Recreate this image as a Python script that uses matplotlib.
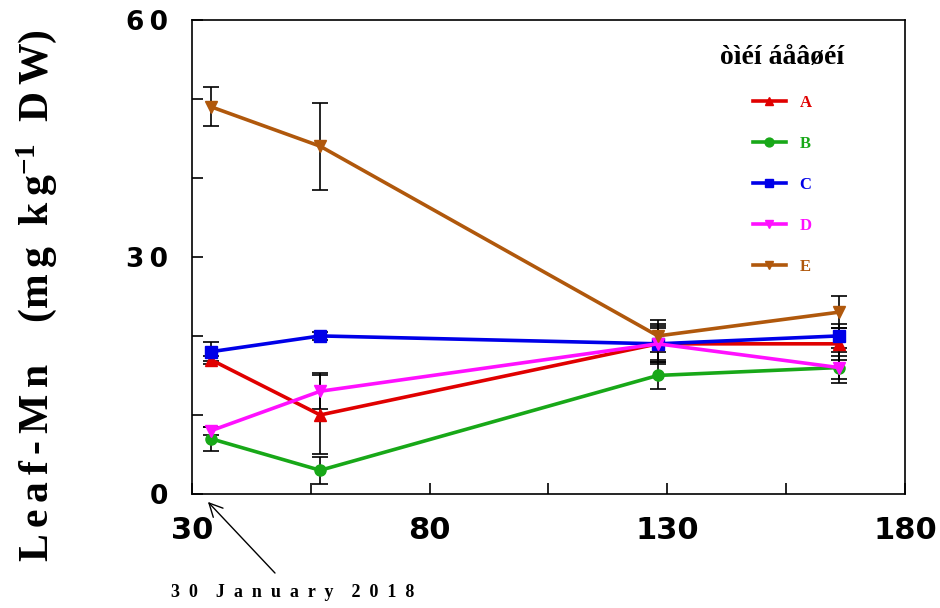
import matplotlib
matplotlib.use("Agg")
import matplotlib.pyplot as plt

plt.rcParams["mathtext.fontset"] = "custom"
plt.rcParams["mathtext.rm"] = "Liberation Serif:bold"
plt.rcParams["mathtext.default"] = "rm"

# Sampling days and leaf Mn means / standard errors per treatment
days = [34, 57, 128, 166]
treatments = ["A", "B", "C", "D", "E"]
mean_A = [17.0, 10.0, 19.0, 19.0]
mean_B = [7.0, 3.0, 15.0, 16.0]
mean_C = [18.0, 20.0, 19.0, 20.0]
mean_D = [8.0, 13.0, 19.0, 16.0]
mean_E = [49.0, 44.0, 20.0, 23.0]
err_A = [0.5, 5.0, 2.0, 2.0]
err_B = [1.5, 1.7, 1.7, 1.5]
err_C = [1.2, 0.5, 2.5, 1.5]
err_D = [0.5, 2.3, 2.3, 2.0]
err_E = [2.5, 5.5, 2.0, 2.0]

colors = ["#e00000", "#18a818", "#0000e8", "#ff10ff", "#b0580c"]
markers = ["^", "o", "s", "v", "v"]
means = [mean_A, mean_B, mean_C, mean_D, mean_E]
errs = [err_A, err_B, err_C, err_D, err_E]

xticks = [30, 80, 130, 180]
yticks = [0, 30, 60]


def spaced(word):
    """Join letters with a thin math space for a letter-spaced look."""
    return r"$\,$".join(word)


fig = plt.figure(figsize=(9.4, 6.08), dpi=100)
ax = fig.add_axes([0.204, 0.1875, 0.759, 0.78])

handles = []
for name, m, e, c, mk in zip(treatments, means, errs, colors, markers):
    ax.errorbar(days, m, yerr=e, fmt="none", ecolor="black", elinewidth=1.2,
                capsize=6, capthick=1.2, zorder=2)
    h, = ax.plot(days, m, color=c, marker=mk, markersize=8, lw=2.6, zorder=3,
                 label=name)
    handles.append(h)

ax.set_xlim(30, 180)
ax.set_ylim(0, 60)
ax.set_xticks(range(30, 181, 25))
ax.set_xticklabels([str(t) if t in xticks else "" for t in range(30, 181, 25)],
                   fontsize=22, fontweight="bold", family="DejaVu Sans")
ax.set_yticks(range(0, 61, 10))
ax.set_yticklabels(["\u2009".join(str(t)) if t in yticks else "" for t in range(0, 61, 10)],
                   fontsize=19, fontweight="bold", family="DejaVu Sans")
ax.tick_params(direction="in", length=8, width=1.2)
ax.tick_params(axis="x", pad=16)
ax.tick_params(axis="y", pad=17)
for s in ax.spines.values():
    s.set_linewidth(1.2)

ylabel = (spaced("Leaf-Mn") + "    (" + spaced("mg") + "  " + spaced("kg")
          + "$^{-1}$" + "  " + spaced("DW") + ")")
fig.text(37 / 940, 1 - 296 / 608, ylabel, rotation=90, ha="center", va="center",
         fontsize=30, family="Liberation Serif", fontweight="bold")

leg = ax.legend(handles=handles, loc="upper center", bbox_to_anchor=(0.8275, 0.978),
                frameon=False, handlelength=2.0, labelspacing=1.5, markerscale=0.8,
                prop={"family": "Liberation Serif", "weight": "bold", "size": 12},
                title="òìéí áåâøéí",
                title_fontproperties={"family": "Liberation Serif", "weight": "bold", "size": 20})
for txt, c in zip(leg.get_texts(), colors):
    txt.set_color(c)

# Arrow pointing at the first sampling date, with its label below
ax.annotate("", xy=(33.4, -1.0), xytext=(47.5, -10.0),
            xycoords="data", textcoords="data", annotation_clip=False,
            arrowprops=dict(arrowstyle="->", color="black", lw=1.0,
                            shrinkA=0, shrinkB=0, mutation_scale=24))
ax.text(51.2, -12.4, "  ".join("30") + "    " + "  ".join("January") + "    "
        + "  ".join("2018"), ha="center", va="center",
        fontsize=13, family="Liberation Serif", fontweight="bold", clip_on=False)

fig.savefig("out.png", dpi=100)
